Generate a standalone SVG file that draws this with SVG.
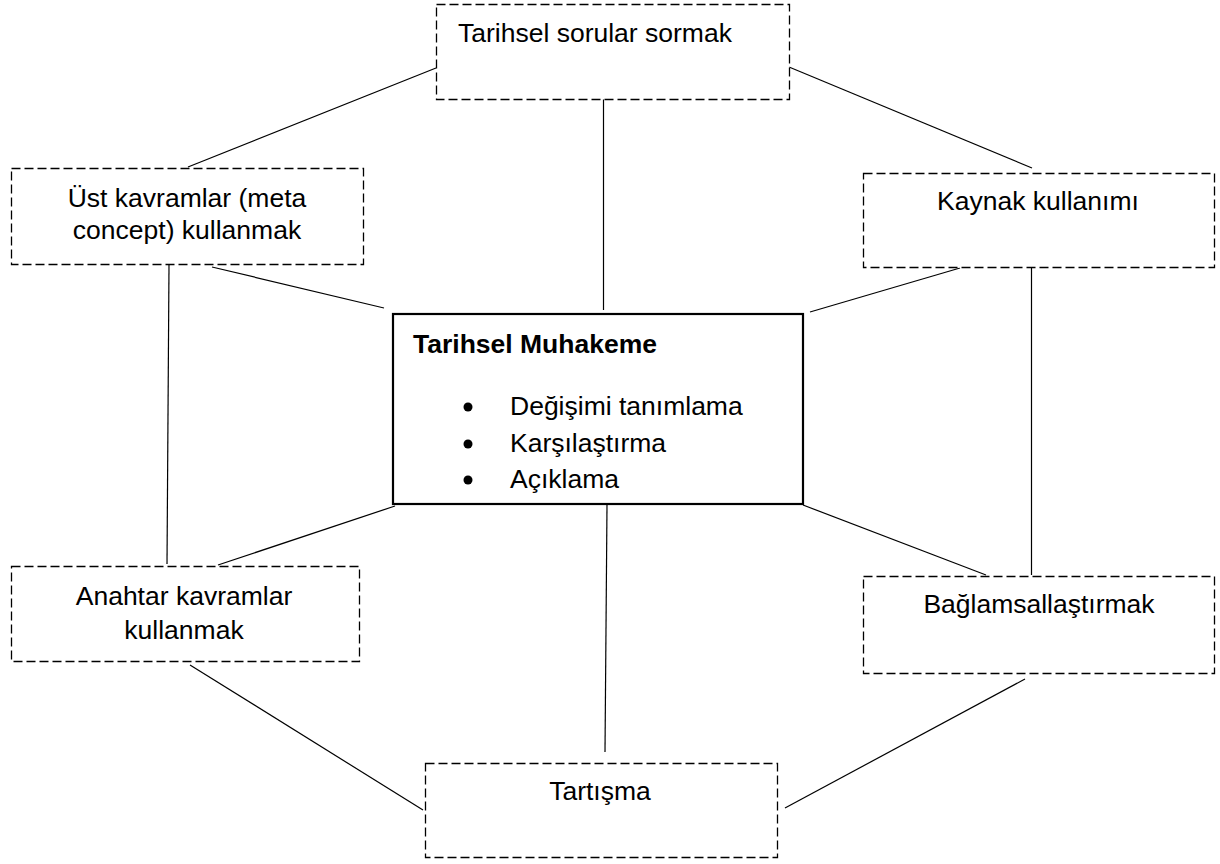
<svg xmlns="http://www.w3.org/2000/svg" width="1220" height="864" viewBox="0 0 1220 864">
<style>
.box{fill:#fff;stroke:#000;stroke-width:1.3;stroke-dasharray:9,4}
.main{fill:#fff;stroke:#000;stroke-width:2.2}
.t{font-family:"Liberation Sans",Arial,sans-serif;font-size:26.5px;fill:#000}
.c{text-anchor:middle}
.b{font-weight:bold}
.conn line{stroke:#000;stroke-width:1.2}
</style>
<rect width="1220" height="864" fill="#fff"/>
<g id="connectors" class="conn">
<line x1="436" y1="68" x2="188" y2="167"/>
<line x1="789" y1="67" x2="1032" y2="168"/>
<line x1="603.5" y1="99" x2="603.5" y2="310"/>
<line x1="212" y1="267" x2="384" y2="308"/>
<line x1="169" y1="265" x2="167" y2="564"/>
<line x1="960" y1="268" x2="810" y2="312"/>
<line x1="1031.5" y1="268" x2="1031.5" y2="575"/>
<line x1="395" y1="506" x2="218" y2="565"/>
<line x1="803" y1="505" x2="986" y2="575"/>
<line x1="607" y1="505" x2="605" y2="752"/>
<line x1="190" y1="665" x2="423" y2="810"/>
<line x1="1025" y1="679" x2="785" y2="808"/>
</g>
<g id="node-top">
<rect class="box" x="436.5" y="4.5" width="353" height="95"/>
<text class="t" x="458" y="42">Tarihsel sorular sormak</text>
</g>
<g id="node-ust">
<rect class="box" x="11.5" y="168.5" width="352" height="96"/>
<text class="t c" x="187" y="207">Üst kavramlar (meta</text>
<text class="t c" x="187" y="239">concept) kullanmak</text>
</g>
<g id="node-kaynak">
<rect class="box" x="863.5" y="173.5" width="351" height="94"/>
<text class="t c" x="1038" y="210">Kaynak kullanımı</text>
</g>
<g id="node-center">
<rect class="main" x="393" y="314" width="410" height="190"/>
<text class="t b" x="413" y="353">Tarihsel Muhakeme</text>
<circle cx="468" cy="407" r="4.5"/>
<circle cx="468" cy="444" r="4.5"/>
<circle cx="468" cy="480" r="4.5"/>
<text class="t" x="510" y="415">Değişimi tanımlama</text>
<text class="t" x="510" y="452">Karşılaştırma</text>
<text class="t" x="510" y="488">Açıklama</text>
</g>
<g id="node-anahtar">
<rect class="box" x="11.5" y="566.5" width="348" height="95"/>
<text class="t c" x="184" y="605">Anahtar kavramlar</text>
<text class="t c" x="184" y="639">kullanmak</text>
</g>
<g id="node-baglam">
<rect class="box" x="863.5" y="576.5" width="351" height="97"/>
<text class="t c" x="1039" y="613">Bağlamsallaştırmak</text>
</g>
<g id="node-tartisma">
<rect class="box" x="425.5" y="763.5" width="352" height="94"/>
<text class="t c" x="600" y="800">Tartışma</text>
</g>
</svg>
